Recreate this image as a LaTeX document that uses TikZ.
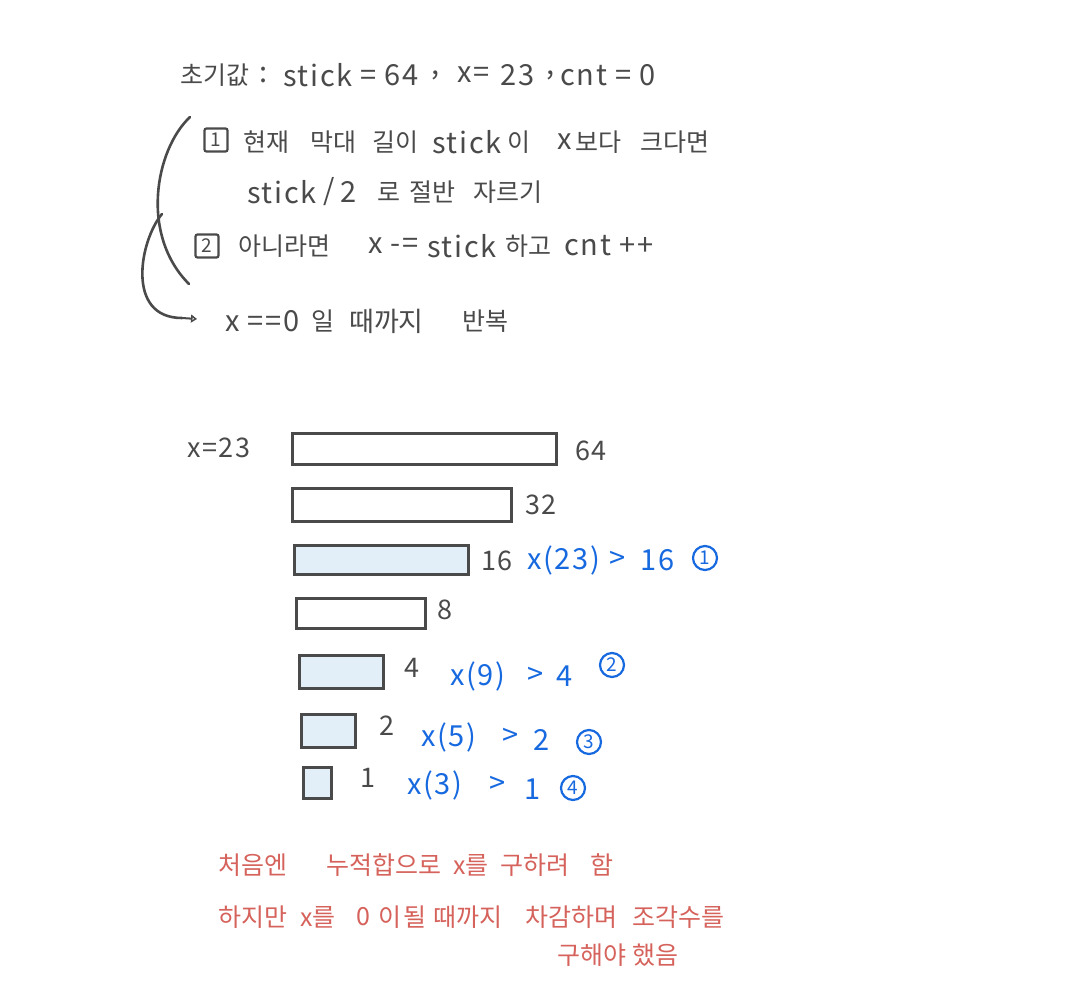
\documentclass[tikz,border=0pt]{standalone}
\usepackage{fontspec}
\setmainfont{Noto Sans CJK KR}
\newfontfamily\handfont[LetterSpace=6]{Noto Sans CJK KR}
\usetikzlibrary{arrows.meta}
\definecolor{ink}{HTML}{4A4A4A}
\definecolor{bluei}{HTML}{1769E0}
\definecolor{redi}{HTML}{D6625C}
\definecolor{fillb}{HTML}{E2EEF8}
\begin{document}
\begin{tikzpicture}[x=1pt,y=-1pt,
  txt/.style={anchor=west,inner sep=0pt,text=ink,font=\handfont\fontsize{29}{32}\selectfont},
  ktxt/.style={anchor=west,inner sep=0pt,text=ink,font=\fontsize{25}{28}\selectfont},
  lbl/.style={anchor=west,inner sep=0pt,text=ink,font=\handfont\fontsize{27}{30}\selectfont},
  btxt/.style={anchor=west,inner sep=0pt,text=bluei,font=\handfont\fontsize{29}{30}\selectfont},
  rtxt/.style={anchor=west,inner sep=0pt,text=redi,font=\fontsize{25}{28}\selectfont},
  bar/.style={draw=ink,line width=2.6pt,anchor=north west,inner sep=0pt,fill=white},
  hbar/.style={bar,fill=fillb},
  boxnum/.style={draw=ink,line width=2.2pt,rounded corners=2pt,inner sep=0pt,minimum size=23pt,text=ink,font=\fontsize{19}{20}\selectfont},
  cnum/.style={draw=bluei,circle,line width=2.2pt,inner sep=0pt,minimum size=24pt,text=bluei,font=\fontsize{19}{20}\selectfont},
  brace/.style={draw=ink,line width=2.6pt,line cap=round}]
\useasboundingbox (0,0) rectangle (1065,1000);
\fill[white] (0,0) rectangle (1065,1000);

% line 1
\node[ktxt] (a1) at (180,75) {초기값};
\node[txt] (a2) at (259,75) {:};
\node[txt] (a3) at (283,75) {stick};
\node[txt] (a4) at (360,75) {= 64};
\node[txt] (a5) at (431,75) {,};
\node[txt] (a6) at (457,75) {x=};
\node[txt] (a7) at (500,75) {23};
\node[txt] (a8) at (546,75) {,};
\node[txt] (a9) at (560,75) {cnt = 0};
% line 2
\node[boxnum] (n1) at (216,140) {1};
\node[ktxt] (b1) at (243,142) {현재};
\node[ktxt] (b2) at (310,142) {막대};
\node[ktxt] (b3) at (372,142) {길이};
\node[txt] (b4) at (432,142) {stick};
\node[ktxt] (b5) at (507,142) {이};
\node[txt] (b6) at (557,142) {x};
\node[ktxt] (b6b) at (575,142) {보다};
\node[ktxt] (b7) at (640,142) {크다면};
% line 3
\node[txt] (c1) at (247,192) {stick};
\node[txt] (c2) at (323,192) {/};
\node[txt] (c3) at (340,192) {2};
\node[ktxt] (c4) at (377,192) {로};
\node[ktxt] (c5) at (409,192) {절반};
\node[ktxt] (c6) at (473,192) {자르기};
% line 4
\node[boxnum] (n2) at (207,246) {2};
\node[ktxt] (d1) at (238,246) {아니라면};
\node[txt] (d2) at (368,246) {x -=};
\node[txt] (d3) at (427,246) {stick};
\node[ktxt] (d4) at (505,246) {하고};
\node[txt] (d5) at (564,246) {cnt ++};
% line 5
\coordinate (tip) at (197,319);
\node[txt] (e1) at (225,321) {x ==0};
\node[ktxt] (e2) at (311,321) {일};
\node[ktxt,font=\fontsize{27}{30}\selectfont] (e3) at (349,321) {때까지};
\node[ktxt] (e4) at (462,321) {반복};

\coordinate (b1s) at (190,117);
\coordinate (b1e) at (189,284);
\coordinate (b2s) at (162,214);
\coordinate (b2e) at (182,318);
\draw[brace] (b1s) .. controls (155,150) and (140,235) .. (b1e);
\draw[brace] (b2s) .. controls (140,240) and (125,318) .. (b2e);
\draw[ink,line width=2pt,-{Triangle[open,length=6pt,width=8pt]}] (b2e) -- (tip);

% bars
\node[lbl] (x23) at (187,448) {x=23};
\node[bar,minimum width=264pt,minimum height=31pt] (r64) at (291,432) {};
\node[bar,minimum width=219pt,minimum height=33pt] (r32) at (291,487) {};
\node[hbar,minimum width=174pt,minimum height=29pt] (r16) at (293,544) {};
\node[bar,minimum width=129pt,minimum height=30pt] (r8) at (295,597) {};
\node[hbar,minimum width=84pt,minimum height=33pt] (r4) at (298,654) {};
\node[hbar,minimum width=54pt,minimum height=33pt] (r2) at (300,713) {};
\node[hbar,minimum width=28pt,minimum height=31pt] (r1) at (302,766) {};

\node[lbl] (t64) at (575,451) {64};
\node[lbl] (t32) at (525,505) {32};
\node[lbl] (t16) at (481,561) {16};
\node[btxt] (c16a) at (527,560) {x(23)};
\node[btxt] (c16b) at (609,560) {>};
\node[btxt] (c16c) at (640,560) {16};
\node[cnum] (k1) at (705,558) {1};
\node[lbl] (t8) at (437,610) {8};
\node[lbl] (t4) at (404,668) {4};
\node[btxt] (c4a) at (450,676) {x(9)};
\node[btxt] (c4b) at (527,676) {>};
\node[btxt] (c4c) at (556,676) {4};
\node[cnum] (k2) at (612,665) {2};
\node[lbl] (t2) at (379,726) {2};
\node[btxt] (c2a) at (421,737) {x(5)};
\node[btxt] (c2b) at (502,737) {>};
\node[btxt] (c2c) at (533,740) {2};
\node[cnum] (k3) at (589,742) {3};
\node[lbl] (t1) at (360,778) {1};
\node[btxt] (c1a) at (407,785) {x(3)};
\node[btxt] (c1b) at (489,785) {>};
\node[btxt] (c1c) at (524,789) {1};
\node[cnum] (k4) at (573,788) {4};

% red notes
\node[rtxt] (r1a) at (218,865) {처음엔};
\node[rtxt] (r1b) at (326,865) {누적합으로};
\node[rtxt] (r1c) at (453,865) {x를};
\node[rtxt] (r1d) at (500,865) {구하려};
\node[rtxt] (r1e) at (590,865) {함};
\node[rtxt] (r2a) at (218,917) {하지만};
\node[rtxt] (r2b) at (300,917) {x를};
\node[rtxt] (r2c) at (356,917) {0};
\node[rtxt] (r2d) at (378,917) {이};
\node[rtxt] (r2e) at (403,917) {될};
\node[rtxt] (r2f) at (433,917) {때까지};
\node[rtxt] (r2g) at (525,917) {차감하며};
\node[rtxt] (r2h) at (632,917) {조각수를};
\node[rtxt] (r3a) at (557,955) {구해야};
\node[rtxt] (r3b) at (632,955) {했음};
\end{tikzpicture}
\end{document}
